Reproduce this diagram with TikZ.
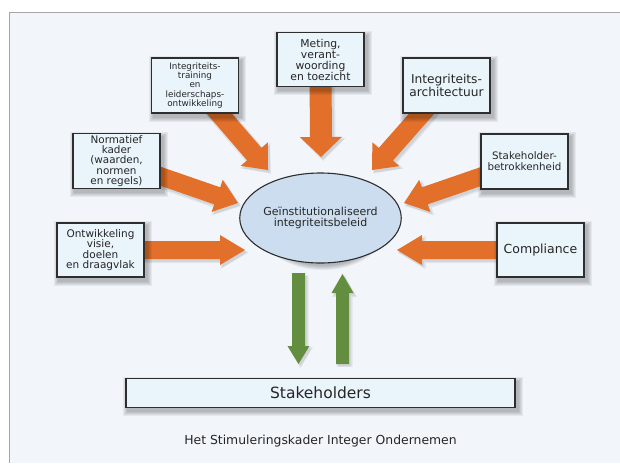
\documentclass[tikz,border=0pt]{standalone}
\usepackage{fontspec}
\setmainfont{DejaVu Sans}
\usetikzlibrary{shapes.geometric}
\definecolor{org}{HTML}{E2702A}
\definecolor{grn}{HTML}{638E40}
\definecolor{boxfill}{HTML}{EAF4FB}
\definecolor{ellfill}{HTML}{CCDDEF}
\definecolor{bgcol}{HTML}{F2F6FA}
\definecolor{boxline}{HTML}{2E2E2E}
\definecolor{txt}{HTML}{262626}
\pgfdeclarelayer{bgl}
\pgfdeclarelayer{arrowl}
\pgfsetlayers{bgl,arrowl,main}
\makeatletter
% #1 start, #2 end, #3 shaft half width, #4 head half width, #5 head length, #6 colour
\newcommand\fatarrow[6]{%
  \pgfpointdiff{\pgfpointanchor{#1}{center}}{\pgfpointanchor{#2}{center}}%
  \pgfgetlastxy\fa@dx\fa@dy
  \pgfmathsetmacro\fa@ang{atan2(\fa@dy,\fa@dx)}%
  \pgfmathsetmacro\fa@len{veclen(\fa@dx,\fa@dy)}%
  \foreach \e in {1.5,0}{%
  \fill[black,opacity=0.07,shift={(#2)},xshift=2pt,yshift=-2.5pt,rotate=\fa@ang]
    (\e pt,0pt) -- (-#5pt-\e pt,#4pt+\e pt) -- (-#5pt-\e pt,#3pt+\e pt) -- (-\fa@len pt,#3pt+\e pt) -- (-\fa@len pt,-#3pt-\e pt)
    -- (-#5pt-\e pt,-#3pt-\e pt) -- (-#5pt-\e pt,-#4pt-\e pt) -- cycle;}
  \fill[#6,shift={(#2)},rotate=\fa@ang]
    (0pt,0pt) -- (-#5pt,#4pt) -- (-#5pt,#3pt) -- (-\fa@len pt,#3pt) -- (-\fa@len pt,-#3pt)
    -- (-#5pt,-#3pt) -- (-#5pt,-#4pt) -- cycle;
}
\makeatother
\newcommand\softshadow[1]{%
  \foreach \e in {4.5,3.5,2.5,1.5,0.5}{%
    \fill[black,opacity=0.055]
      ([xshift=2.5pt-\e pt, yshift=-3.5pt+\e pt]#1.north west) rectangle
      ([xshift=2.5pt+\e pt, yshift=-3.5pt-\e pt]#1.south east);}}
\newcommand\softellshadow[3]{%
  \foreach \e in {4.5,3.5,2.5,1.5,0.5}{%
    \pgfmathsetmacro\rxx{#2+\e-1}\pgfmathsetmacro\ryy{#3+\e-1}%
    \fill[black,opacity=0.055]
      ([xshift=2.5pt, yshift=-3.5pt]#1.center) ellipse [x radius=\rxx pt, y radius=\ryy pt];}}
\tikzset{
  box/.style={draw=boxline, line width=1.1pt, fill=boxfill, align=center, inner sep=0pt,
    text=txt, minimum width=87pt, minimum height=55pt},
}
\begin{document}
\begin{tikzpicture}[x=1pt,y=-1pt]
\useasboundingbox (0,0) rectangle (620,463);
\begin{pgfonlayer}{bgl}
\fill[white] (0,0) rectangle (620,463);
\fill[bgcol] (9,12) rectangle (620,463);
\draw[gray!70,line width=0.8pt] (9,463) -- (9,12) -- (620,12);
\end{pgfonlayer}

\node[box, minimum width=87pt, minimum height=54pt, font=\fontsize{10.8}{11}\selectfont] (meting) at (320.5,59.5)
  {Meting,\\verant-\\woording\\en toezicht};
\node[box, font=\fontsize{8.8}{9.2}\selectfont] (train) at (195,85.5)
  {Integriteits-\\training\\en\\leiderschaps-\\ontwikkeling};
\node[box, font=\fontsize{12.2}{12.3}\selectfont] (arch) at (446.5,85.5)
  {Integriteits-\\architectuur};
\node[box, font=\fontsize{10.4}{10.4}\selectfont] (norm) at (116.5,161)
  {Normatief\\kader\\(waarden,\\normen\\en regels)};
\node[box, font=\fontsize{10.3}{10.7}\selectfont] (stake) at (524.5,161.5)
  {Stakeholder-\\betrokkenheid};
\node[box, minimum height=54pt, font=\fontsize{10.5}{10.6}\selectfont] (ontw) at (100.5,250)
  {Ontwikkeling\\visie,\\doelen\\en draagvlak};
\node[box, minimum height=54pt, font=\fontsize{12.5}{13}\selectfont] (compl) at (540.5,250)
  {Compliance};
\node[ellipse, draw=boxline, line width=1.1pt, fill=ellfill, text=txt, inner sep=0pt,
  minimum width=126pt, minimum height=90pt, align=center, font=\fontsize{11}{11.5}\selectfont]
  (ell) at (320.5,218) {Geïnstitutionaliseerd\\integriteitsbeleid};
\node[box, minimum width=389pt, minimum height=29pt, font=\fontsize{15.5}{16}\selectfont] (stk) at (320.5,393)
  {Stakeholders};
\node[text=txt, font=\fontsize{12.4}{13}\selectfont] (cap) at (320.5,441)
  {Het Stimuleringskader Integer Ondernemen};

\coordinate (tmet) at (321,157);
\coordinate (ttr) at (268,170);
\coordinate (tar) at (372,170);
\coordinate (tno) at (238,203);
\coordinate (tst) at (404,203);
\coordinate (ton) at (245,250);
\coordinate (tco) at (397,250);
\coordinate (gds) at (298.5,273);
\coordinate (gde) at (298.5,364);
\coordinate (gus) at (342.5,364);
\coordinate (gue) at (342.5,274);

\begin{pgfonlayer}{arrowl}
\fatarrow{meting}{tmet}{11}{21}{20}{org}
\fatarrow{train}{ttr}{9.5}{18}{21}{org}
\fatarrow{arch}{tar}{9.5}{18}{21}{org}
\fatarrow{norm}{tno}{9}{17}{22}{org}
\fatarrow{stake}{tst}{9}{17}{22}{org}
\fatarrow{ontw}{ton}{9}{15}{25}{org}
\fatarrow{compl}{tco}{9}{15}{25}{org}
\fatarrow{gds}{gde}{6.5}{11}{18}{grn}
\fatarrow{gus}{gue}{6.5}{11}{19}{grn}
\softshadow{meting}\softshadow{train}\softshadow{arch}\softshadow{norm}
\softshadow{stake}\softshadow{ontw}\softshadow{compl}\softshadow{stk}
\softellshadow{ell}{63}{45}
\end{pgfonlayer}
\end{tikzpicture}
\end{document}
